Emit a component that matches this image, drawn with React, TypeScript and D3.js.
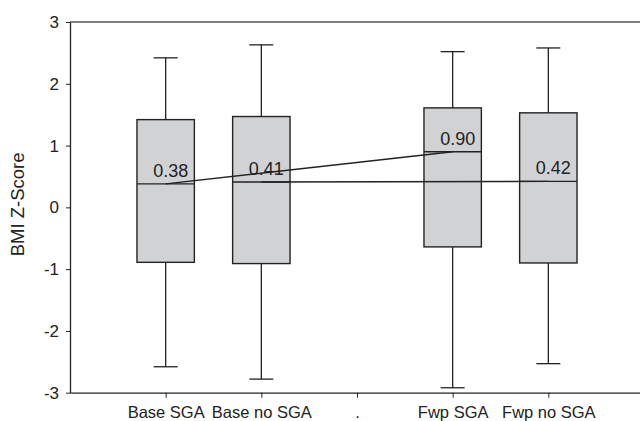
import { useEffect, useRef } from "react";
import { axisBottom, axisLeft, scaleLinear, scalePoint, select } from "d3";

const categories = ["Base SGA", "Base no SGA", ".", "Fwp SGA", "Fwp no SGA"];
const groups = ["Base SGA", "Base no SGA", "Fwp SGA", "Fwp no SGA"];
const whiskerLow = [-2.58, -2.78, -2.92, -2.53];
const q1 = [-0.89, -0.91, -0.64, -0.9];
const medians = [0.38, 0.41, 0.9, 0.42];
const q3 = [1.42, 1.47, 1.61, 1.53];
const whiskerHigh = [2.42, 2.63, 2.52, 2.58];
const medianLabels = ["0.38", "0.41", "0.90", "0.42"];
const yTicks = [-3, -2, -1, 0, 1, 2, 3];
// median connecting lines (from group index -> to group index)
const links = [
  [0, 2],
  [1, 3],
];

function App() {
  const ref = useRef<SVGSVGElement | null>(null);

  const W = 640;
  const H = 421;
  const margin = { top: 22, right: -4, bottom: 28, left: 70 };
  const font = "'Liberation Sans', Arial, Helvetica, sans-serif";
  const ink = "#222";

  useEffect(() => {
    const svg = select(ref.current);
    svg.selectAll("*").remove();

    const x = scalePoint()
      .domain(categories)
      .range([margin.left, W - margin.right])
      .padding(1);
    const y = scaleLinear()
      .domain([-3, 3])
      .range([H - margin.bottom - 0.3, margin.top]);

    const boxW = x.step() * 0.6;
    const capW = 24;

    // frame top line
    svg
      .append("line")
      .attr("x1", margin.left)
      .attr("x2", W - margin.right)
      .attr("y1", y(3))
      .attr("y2", y(3))
      .attr("stroke", "#555")
      .attr("stroke-width", 1.4);

    // y axis
    const gy = svg
      .append("g")
      .attr("transform", `translate(${margin.left},0)`)
      .call(axisLeft(y).tickValues(yTicks).tickSize(4).tickSizeOuter(0).tickPadding(7).tickFormat((d) => String(d)));
    gy.select(".domain").attr("stroke", ink).attr("stroke-width", 1.3);
    gy.selectAll(".tick line").attr("stroke", ink);
    gy.selectAll("text").attr("font-family", font).attr("font-size", 17).attr("fill", ink);

    // x axis
    const gx = svg
      .append("g")
      .attr("transform", `translate(0,${y(-3)})`)
      .call(axisBottom(x).tickSize(5).tickSizeOuter(0).tickPadding(9));
    gx.select(".domain").attr("stroke", ink).attr("stroke-width", 1.3);
    gx.selectAll(".tick line").attr("stroke", ink);
    gx.selectAll("text").attr("font-family", font).attr("font-size", 16.5).attr("fill", ink);

    // y axis title
    svg
      .append("text")
      .attr("transform", `translate(24,${y(0) - 3}) rotate(-90)`)
      .attr("text-anchor", "middle")
      .attr("font-family", font)
      .attr("font-size", 18.5)
      .attr("fill", ink)
      .text("BMI Z-Score");

    const g = svg.append("g");
    groups.forEach((name, i) => {
      const cx = x(name) as number;
      // whiskers
      g.append("line")
        .attr("x1", cx).attr("x2", cx)
        .attr("y1", y(q3[i])).attr("y2", y(whiskerHigh[i]))
        .attr("stroke", ink).attr("stroke-width", 1.3);
      g.append("line")
        .attr("x1", cx).attr("x2", cx)
        .attr("y1", y(q1[i])).attr("y2", y(whiskerLow[i]))
        .attr("stroke", ink).attr("stroke-width", 1.3);
      [whiskerHigh[i], whiskerLow[i]].forEach((v) => {
        g.append("line")
          .attr("x1", cx - capW / 2).attr("x2", cx + capW / 2)
          .attr("y1", y(v)).attr("y2", y(v))
          .attr("stroke", ink).attr("stroke-width", 1.3);
      });
      // box
      g.append("rect")
        .attr("x", cx - boxW / 2)
        .attr("y", y(q3[i]))
        .attr("width", boxW)
        .attr("height", y(q1[i]) - y(q3[i]))
        .attr("fill", "#d1d2d4")
        .attr("stroke", ink)
        .attr("stroke-width", 1.4);
      // median
      g.append("line")
        .attr("x1", cx - boxW / 2).attr("x2", cx + boxW / 2)
        .attr("y1", y(medians[i])).attr("y2", y(medians[i]))
        .attr("stroke", ink).attr("stroke-width", 1.3);
      g.append("text")
        .attr("x", cx + 5)
        .attr("y", y(medians[i]) - 7)
        .attr("text-anchor", "middle")
        .attr("font-family", font)
        .attr("font-size", 18)
        .attr("fill", ink)
        .text(medianLabels[i]);
    });

    // lines linking medians
    links.forEach(([a, b]) => {
      g.append("line")
        .attr("x1", x(groups[a]) as number)
        .attr("y1", y(medians[a]))
        .attr("x2", x(groups[b]) as number)
        .attr("y2", y(medians[b]))
        .attr("stroke", ink)
        .attr("stroke-width", 1.3);
    });
  }, []);

  return (
    <svg
      ref={ref}
      width={W}
      height={H}
      style={{ position: "absolute", left: 0, top: 0, background: "#fff" }}
    />
  );
}

export default App;
